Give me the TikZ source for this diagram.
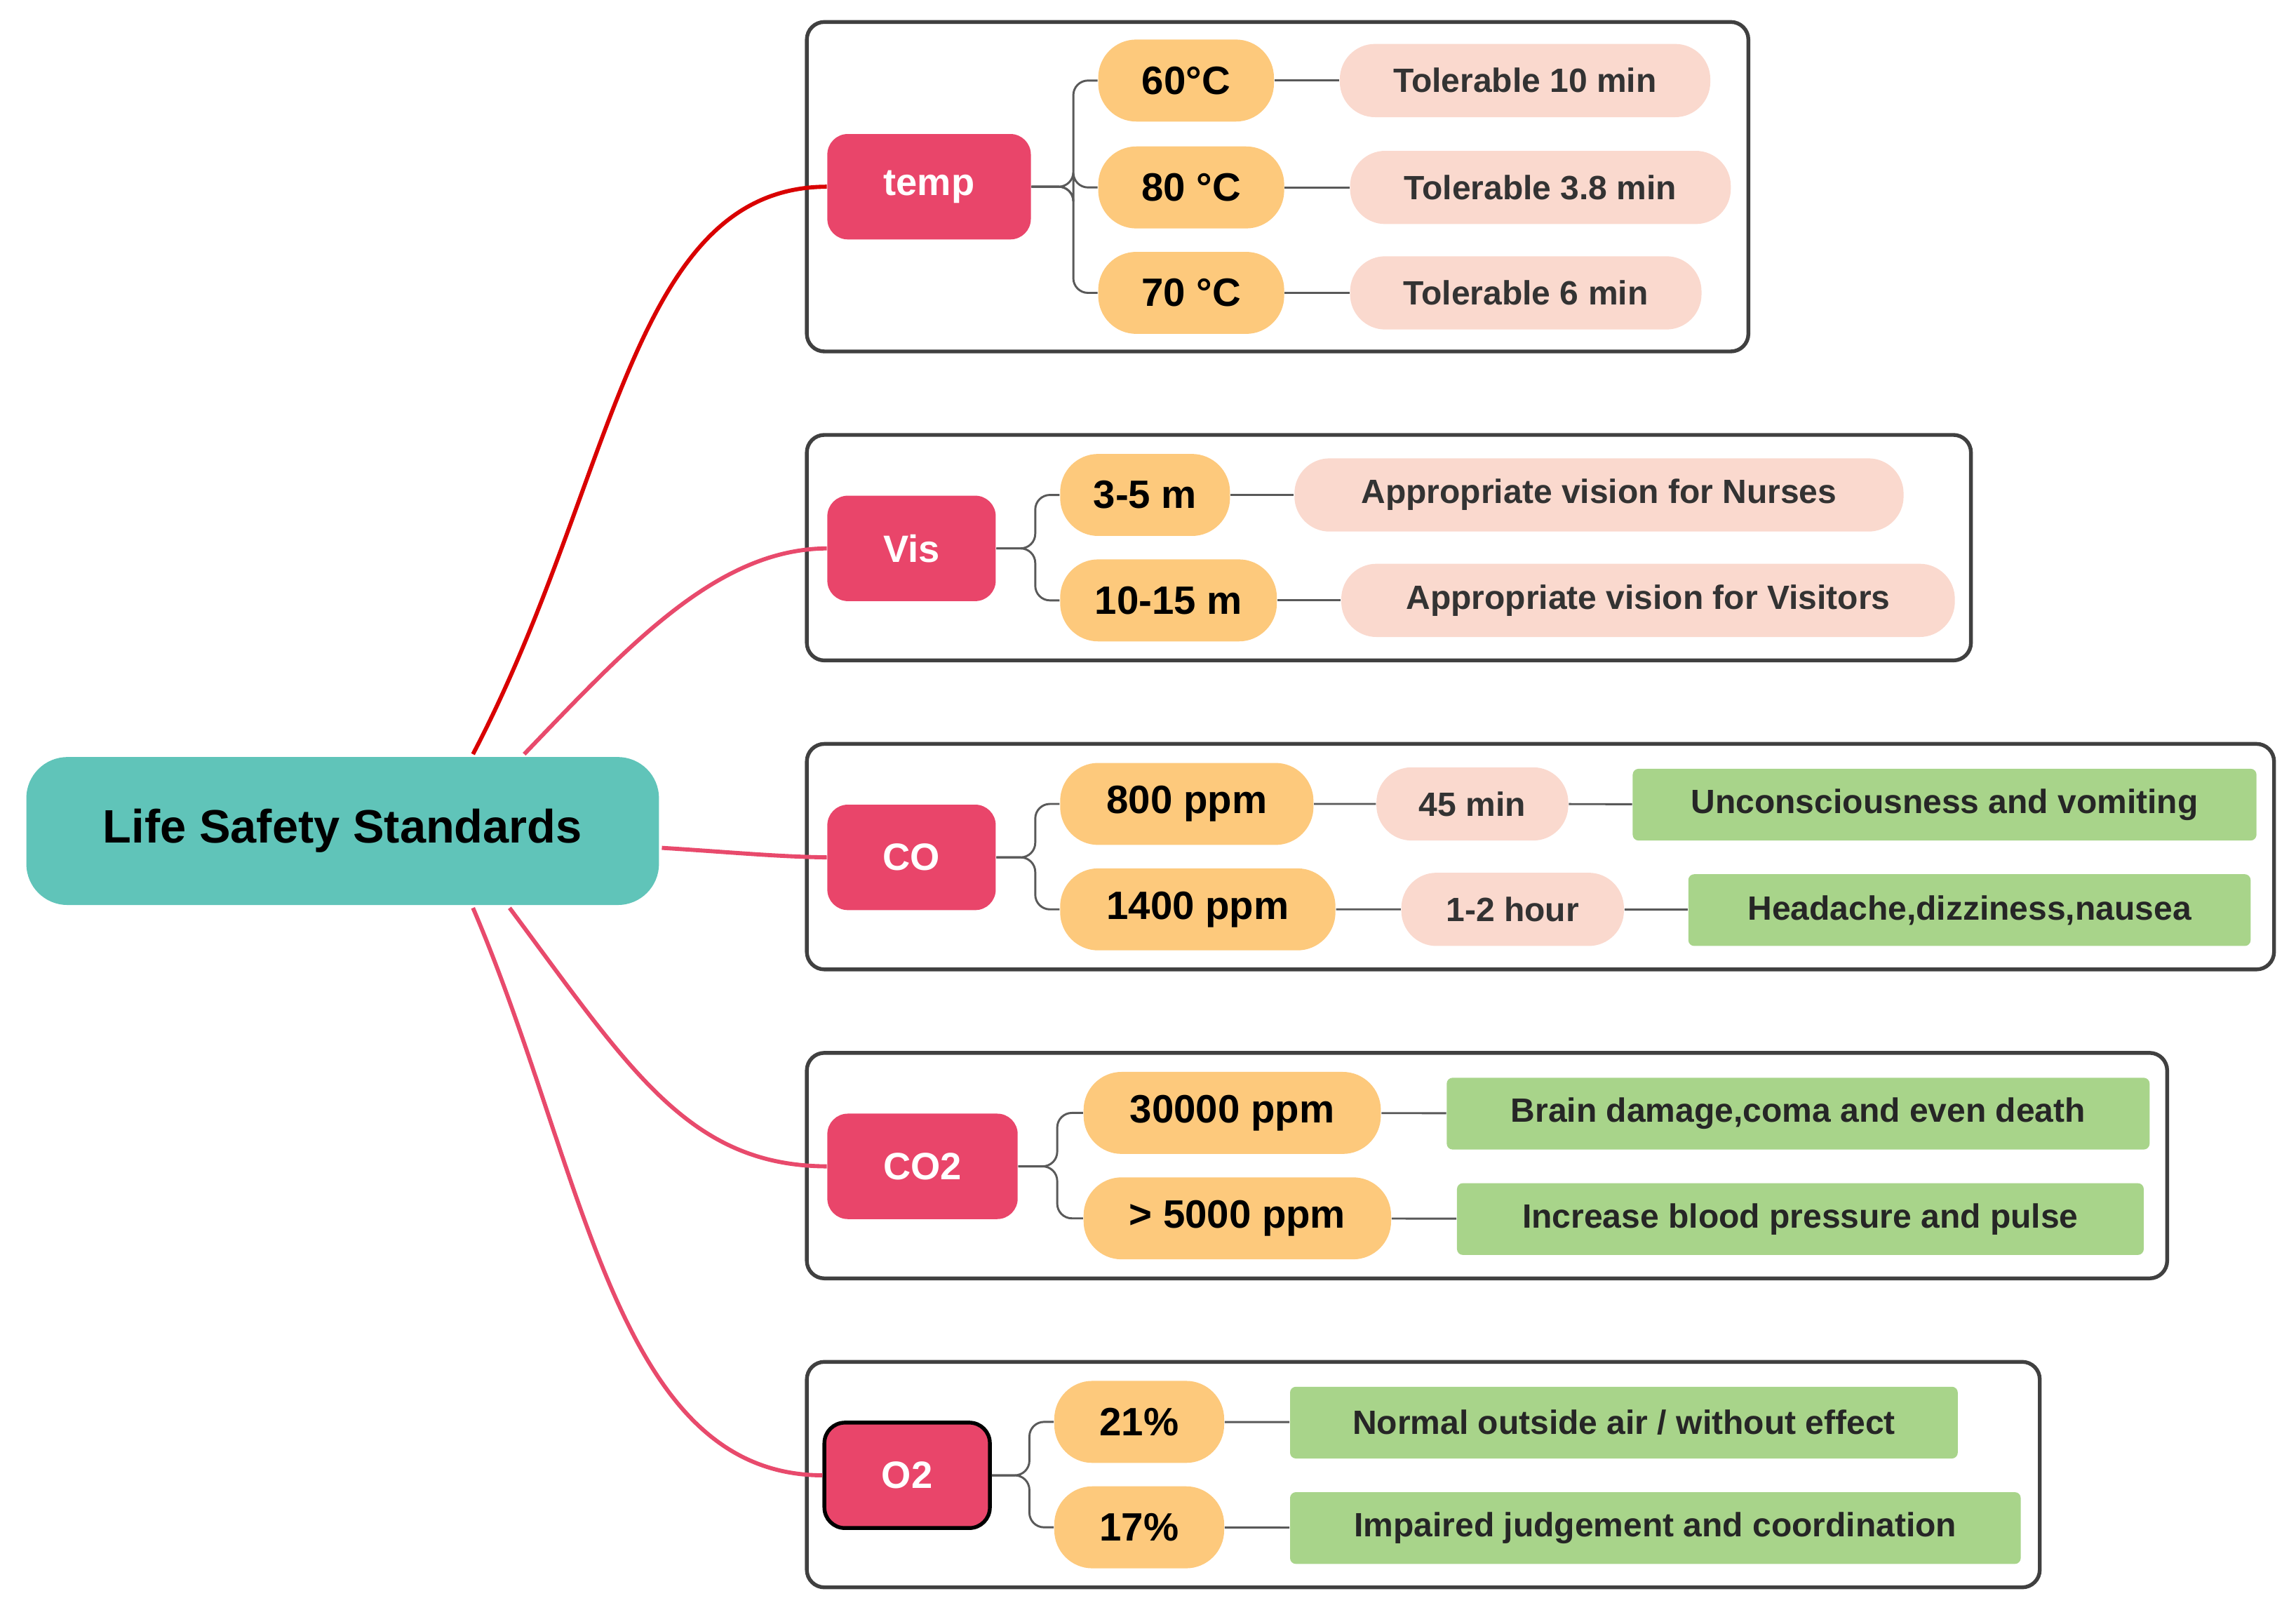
\documentclass[tikz,border=0pt]{standalone}
\usepackage{fontspec}
\setmainfont{Liberation Sans}
\begin{document}
\begin{tikzpicture}[x=0.5pt,y=-0.5pt,
  grp/.style={draw=black!75,line width=1.3pt,rounded corners=6pt},
  cat/.style={fill=catc,rounded corners=7pt,text=white,font=\bfseries\fontsize{13}{15}\selectfont,minimum height=36pt,inner sep=0pt},
  val/.style={fill=valc,rounded corners=13pt,font=\bfseries\fontsize{13.5}{15}\selectfont,minimum height=28pt,inner sep=0pt},
  pk/.style={fill=pkc,rounded corners=12pt,text=black!80,font=\bfseries\fontsize{11.5}{13}\selectfont,minimum height=25pt,inner sep=0pt},
  gr/.style={fill=grc,rounded corners=2pt,text=black!85,font=\bfseries\fontsize{11.5}{13}\selectfont,minimum height=24.5pt,inner sep=0pt},
  br/.style={draw=black!65,line width=0.7pt,rounded corners=5pt},
  ln/.style={draw=black!65,line width=0.7pt},
  cv/.style={line width=1.4pt,draw=curc}]
\definecolor{catc}{HTML}{E9456A}
\definecolor{valc}{HTML}{FDC97C}
\definecolor{pkc}{HTML}{FAD9CE}
\definecolor{grc}{HTML}{A8D48A}
\definecolor{rootc}{HTML}{60C4B9}
\definecolor{curc}{HTML}{E84A6C}
\useasboundingbox (0,0) rectangle (1568,1104);
% group boxes
\draw[grp] (551,15) rectangle (1194,240);
\draw[grp] (551,297) rectangle (1346,451);
\draw[grp] (551,508) rectangle (1553,662);
\draw[grp] (551,719) rectangle (1480,873);
\draw[grp] (551,930) rectangle (1393,1084);
% root
\node[fill=rootc,rounded corners=14pt,minimum width=216pt,minimum height=50.5pt,font=\bfseries\fontsize{16}{18}\selectfont,inner sep=0pt] (root) at (234,567.5) {Life Safety Standards};
% categories
\node[cat,minimum width=69.5pt] (temp) at (634.5,127.5) {temp};
\node[cat,minimum width=57.5pt] (vis) at (622.5,374.5) {Vis};
\node[cat,minimum width=57.5pt] (co) at (622.5,585.5) {CO};
\node[cat,minimum width=65pt] (co2) at (630,796.5) {CO2};
\node[cat,minimum width=56.5pt,draw=black,line width=1.3pt] (o2) at (619.5,1007.5) {O2};
% curves
\coordinate (r1) at (323,515);
\coordinate (r2) at (358,515);
\coordinate (r3) at (452,579);
\coordinate (r4) at (348,620);
\coordinate (r5) at (323,620);
\draw[cv,draw=red!85!black] (r1) .. controls (420,330) and (430,128) .. (temp.west);
\draw[cv] (r2) .. controls (430,440) and (490,375) .. (vis.west);
\draw[cv] (r3) .. controls (500,582) and (530,585) .. (co.west);
\draw[cv] (r4) .. controls (430,730) and (470,796) .. (co2.west);
\draw[cv] (r5) .. controls (400,800) and (420,1007) .. (o2.west);
% temp
\node[val,minimum width=60pt] (t1) at (810,55) {60°C};
\node[val,minimum width=63.5pt] (t2) at (813.5,128) {80 °C};
\node[val,minimum width=63.5pt] (t3) at (813.5,200) {70 °C};
\node[pk,minimum width=126.5pt] (p1) at (1041.5,55) {Tolerable 10 min};
\node[pk,minimum width=130pt] (p2) at (1052,128) {Tolerable 3.8 min};
\node[pk,minimum width=120pt] (p3) at (1042,200) {Tolerable 6 min};
\foreach \c in {t1,t2,t3}{\draw[br] (temp.east) -- (733,127.5) |- (\c.west);}
\draw[ln] (t1) -- (p1); \draw[ln] (t2) -- (p2); \draw[ln] (t3) -- (p3);
% vis
\node[val,minimum width=58pt] (v1) at (782,338) {3-5 m};
\node[val,minimum width=74pt] (v2) at (798,410) {10-15 m};
\node[pk,minimum width=208pt] (q1) at (1092,338) {Appropriate vision for Nurses};
\node[pk,minimum width=209.5pt] (q2) at (1125.5,410) {Appropriate vision for Visitors};
\foreach \c in {v1,v2}{\draw[br] (vis.east) -- (707,374.5) |- (\c.west);}
\draw[ln] (v1) -- (q1); \draw[ln] (v2) -- (q2);
% co
\node[val,minimum width=86.5pt] (c1) at (810.5,549) {800 ppm};
\node[val,minimum width=94pt] (c2) at (818,621) {1400 ppm};
\node[pk,minimum width=65.5pt] (d1) at (1005.5,549) {45 min};
\node[pk,minimum width=76pt] (d2) at (1033,621) {1-2 hour};
\node[gr,minimum width=213pt] (e1) at (1328,549.5) {Unconsciousness and vomiting};
\node[gr,minimum width=192pt] (e2) at (1345,621.5) {Headache,dizziness,nausea};
\foreach \c in {c1,c2}{\draw[br] (co.east) -- (707,585.5) |- (\c.west);}
\draw[ln] (c1) -- (d1) (d1) -- (e1) (c2) -- (d2) (d2) -- (e2);
% co2
\node[val,minimum width=101.5pt] (k1) at (841.5,760) {30000 ppm};
\node[val,minimum width=105pt] (k2) at (845,832) {> 5000 ppm};
\node[gr,minimum width=240pt] (g1) at (1228,760.5) {Brain damage,coma and even death};
\node[gr,minimum width=234.5pt] (g2) at (1229.5,832.5) {Increase blood pressure and pulse};
\foreach \c in {k1,k2}{\draw[br] (co2.east) -- (722,796.5) |- (\c.west);}
\draw[ln] (k1) -- (g1); \draw[ln] (k2) -- (g2);
% o2
\node[val,minimum width=58pt] (o1) at (778,971) {21\%};
\node[val,minimum width=58pt] (o3) at (778,1043) {17\%};
\node[gr,minimum width=228pt] (h1) at (1109,971.5) {Normal outside air / without effect};
\node[gr,minimum width=249.5pt] (h2) at (1130.5,1043.5) {Impaired judgement and coordination};
\foreach \c in {o1,o3}{\draw[br] (o2.east) -- (703,1007.5) |- (\c.west);}
\draw[ln] (o1) -- (h1); \draw[ln] (o3) -- (h2);
\end{tikzpicture}
\end{document}
